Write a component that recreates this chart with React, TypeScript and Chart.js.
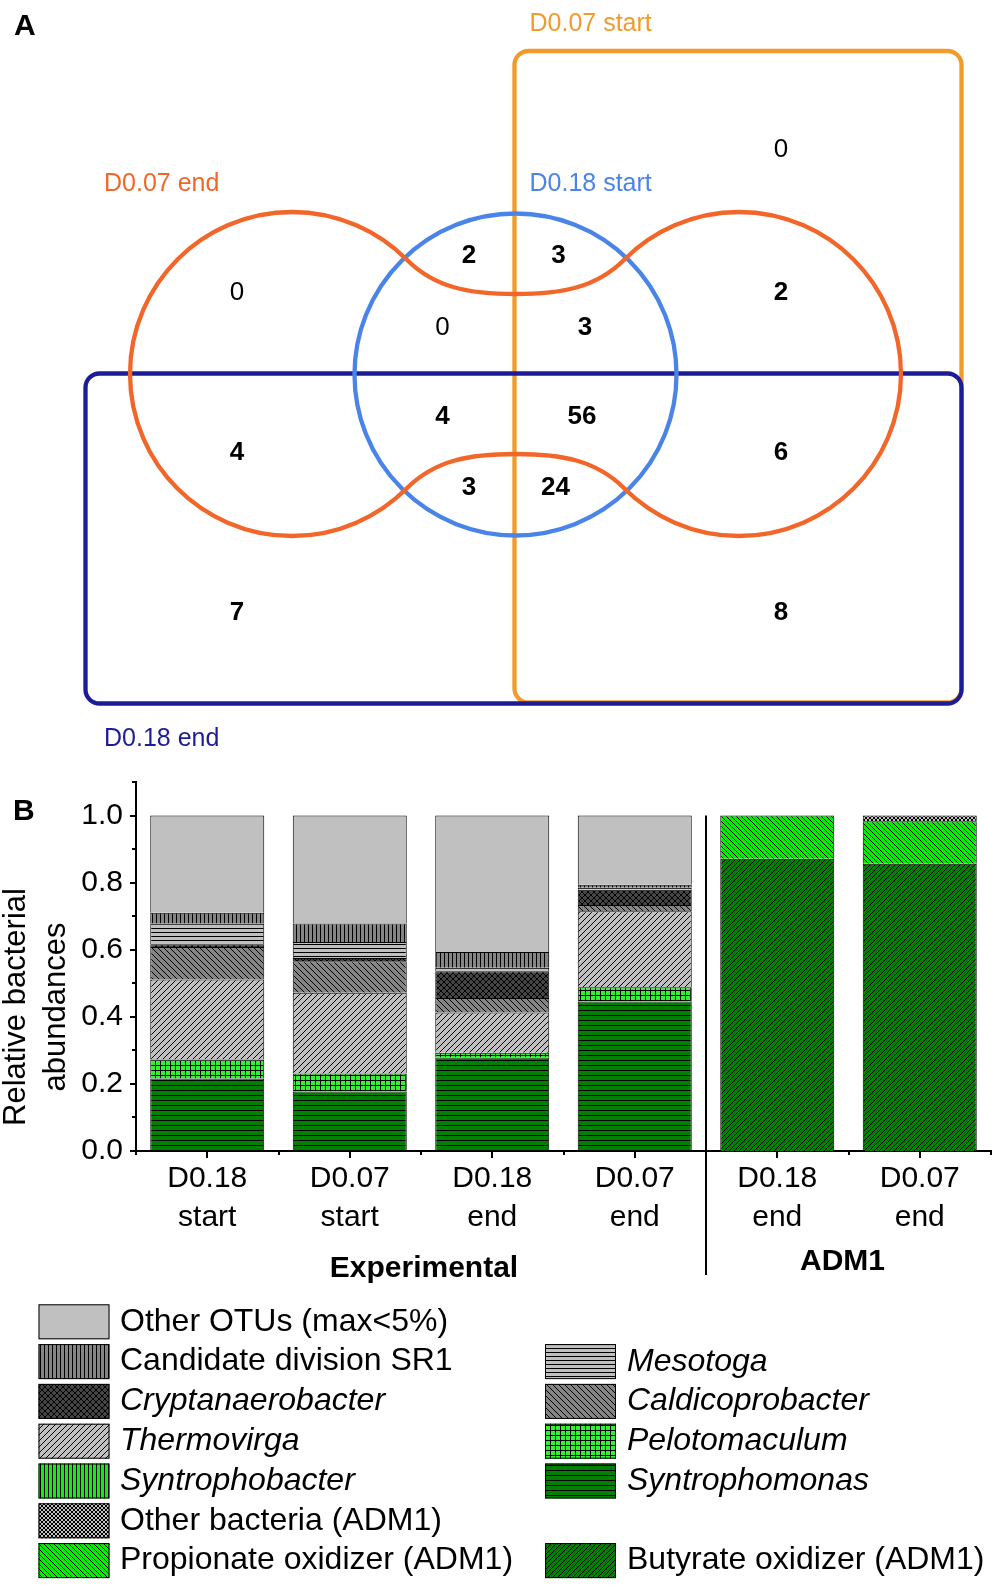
import React, { useEffect, useRef } from 'react';
import { Chart, registerables } from 'chart.js';

Chart.register(...registerables);

const FONT = '"Liberation Sans", Arial, Helvetica, sans-serif';

// ---------------- Panel A: Venn diagram data ----------------
const VENN_SETS = ['D0.07 start', 'D0.07 end', 'D0.18 start', 'D0.18 end'];
const VENN_COUNTS = [0, 0, 2, 3, 0, 3, 2, 4, 4, 56, 6, 3, 24, 7, 8];

// ---------------- Panel B: stacked bars data ----------------
const SAMPLES = [
  ['D0.18', 'start'],
  ['D0.07', 'start'],
  ['D0.18', 'end'],
  ['D0.07', 'end'],
  ['D0.18', 'end'],
  ['D0.07', 'end'],
];
const GROUPS = ['Experimental', 'ADM1'];
const GROUP_FIRST = [0, 4];
const GROUP_LAST = [3, 5];

const SYNTROPHOMONAS = [0.216, 0.177, 0.279, 0.446, 0, 0];
const PELOTOMACULUM = [0.057, 0.054, 0.014, 0.042, 0, 0];
const SYNTROPHOBACTER = [0, 0, 0, 0, 0, 0];
const THERMOVIRGA = [0.238, 0.241, 0.12, 0.227, 0, 0];
const CALDICOPROBACTER = [0.097, 0.094, 0.043, 0.018, 0, 0];
const CRYPTANAEROBACTER = [0.008, 0.009, 0.08, 0.046, 0, 0];
const MESOTOGA = [0.062, 0.048, 0.01, 0.006, 0, 0];
const SR1 = [0.032, 0.055, 0.047, 0.009, 0, 0];
const OTHER_OTUS = [0.29, 0.322, 0.407, 0.206, 0, 0];
const BUTYRATE_ADM1 = [0, 0, 0, 0, 0.871, 0.856];
const PROPIONATE_ADM1 = [0, 0, 0, 0, 0.129, 0.127];
const OTHER_ADM1 = [0, 0, 0, 0, 0, 0.017];

const Y_TICKS_MAJOR = [0, 0.2, 0.4, 0.6, 0.8, 1.0];

// ---------------- Layout & styles ----------------
const W = 1004;
const A_H = 760;
const B_H = 835;

const VENN_COLORS = ['#F09B2C', '#F2662A', '#4A84E8', '#1C1C98'];
const VENN_LABEL_X = [529.5, 104, 529.5, 104];
const VENN_LABEL_Y = [24.5, 184.5, 184.5, 739.5];
const VENN_COUNT_X = [237, 781, 469, 558.5, 442.5, 585, 781, 237, 442.5, 582, 781, 469, 555.4, 237, 781];
const VENN_COUNT_Y = [293, 149.5, 256, 256, 327.5, 327.5, 293, 452.7, 417, 417, 452.7, 488, 488, 613, 613];
const VENN_RECTS = [
  { set: 0, x0: 514.5, y0: 51, x1: 961.5, y1: 702.5 },
  { set: 3, x0: 85.5, y0: 373.5, x1: 961.5, y1: 703.5 },
];
const VENN_CORNER = 14;
const VENN_CIRCLE = { set: 2, cx: 515.5, cy: 374.5, r: 161 };
const VENN_LOBES = { set: 1, cxL: 292, cxR: 739, cy: 374, r: 162, neck: 80 };

type Taxon = {
  label: string;
  italic: boolean;
  values: number[];
  bg: string;
  kind: string;
  period: number;
  thick: number;
  col: number;
  row: number;
};

const TAXA: Taxon[] = [
  { label: 'Syntrophomonas', italic: true, values: SYNTROPHOMONAS, bg: '#008000', kind: 'h', period: 5, thick: 1, col: 1, row: 4 },
  { label: 'Pelotomaculum', italic: true, values: PELOTOMACULUM, bg: '#33F033', kind: 'grid', period: 5, thick: 1, col: 1, row: 3 },
  { label: 'Syntrophobacter', italic: true, values: SYNTROPHOBACTER, bg: '#10EE10', kind: 'v', period: 4, thick: 1, col: 0, row: 4 },
  { label: 'Thermovirga', italic: true, values: THERMOVIRGA, bg: '#C0C0C0', kind: 'fwd', period: 6, thick: 1, col: 0, row: 3 },
  { label: 'Caldicoprobacter', italic: true, values: CALDICOPROBACTER, bg: '#858585', kind: 'back', period: 6, thick: 1, col: 1, row: 2 },
  { label: 'Cryptanaerobacter', italic: true, values: CRYPTANAEROBACTER, bg: '#454545', kind: 'cross', period: 6, thick: 1, col: 0, row: 2 },
  { label: 'Mesotoga', italic: true, values: MESOTOGA, bg: '#C0C0C0', kind: 'h', period: 4, thick: 1, col: 1, row: 1 },
  { label: 'Candidate division SR1', italic: false, values: SR1, bg: '#858585', kind: 'v', period: 4, thick: 1, col: 0, row: 1 },
  { label: 'Other OTUs (max<5%)', italic: false, values: OTHER_OTUS, bg: '#C0C0C0', kind: 'solid', period: 4, thick: 1, col: 0, row: 0 },
  { label: 'Butyrate oxidizer (ADM1)', italic: false, values: BUTYRATE_ADM1, bg: '#008000', kind: 'fwd', period: 5, thick: 1, col: 1, row: 6 },
  { label: 'Propionate oxidizer (ADM1)', italic: false, values: PROPIONATE_ADM1, bg: '#00F000', kind: 'back', period: 5, thick: 1, col: 0, row: 6 },
  { label: 'Other bacteria (ADM1)', italic: false, values: OTHER_ADM1, bg: '#C0C0C0', kind: 'cross', period: 4, thick: 1, col: 0, row: 5 },
];

function makePattern(t: Taxon): CanvasPattern | string {
  if (t.kind === 'solid') return t.bg;
  const s = t.period;
  const c = document.createElement('canvas');
  c.width = s;
  c.height = s;
  const g = c.getContext('2d')!;
  g.fillStyle = t.bg;
  g.fillRect(0, 0, s, s);
  g.fillStyle = '#000';
  for (let i = 0; i < s; i++) {
    for (let k = 0; k < t.thick; k++) {
      if (t.kind === 'h' || t.kind === 'grid') g.fillRect(i, k, 1, 1);
      if (t.kind === 'v' || t.kind === 'grid') g.fillRect(k, i, 1, 1);
      if (t.kind === 'fwd' || t.kind === 'cross') g.fillRect((i + k) % s, s - 1 - i, 1, 1);
      if (t.kind === 'back' || t.kind === 'cross') g.fillRect((i + k) % s, i, 1, 1);
    }
  }
  return g.createPattern(c, 'repeat')!;
}

const vennPlugin = {
  id: 'vennShapes',
  beforeDatasetsDraw(chart: any) {
    const ctx: CanvasRenderingContext2D = chart.ctx;
    const xs = chart.scales.x;
    const ys = chart.scales.y;
    const px = (v: number) => xs.getPixelForValue(v);
    const py = (v: number) => ys.getPixelForValue(v);
    const len = (v: number) => xs.getPixelForValue(v) - xs.getPixelForValue(0);
    ctx.save();
    ctx.lineWidth = 4.3;
    ctx.lineJoin = 'round';
    for (const r of VENN_RECTS) {
      ctx.strokeStyle = VENN_COLORS[r.set];
      ctx.beginPath();
      const x0 = px(r.x0), y0 = py(r.y0);
      (ctx as any).roundRect(x0, y0, px(r.x1) - x0, py(r.y1) - y0, len(VENN_CORNER));
      ctx.stroke();
    }
    // circle
    ctx.strokeStyle = VENN_COLORS[VENN_CIRCLE.set];
    ctx.beginPath();
    ctx.arc(px(VENN_CIRCLE.cx), py(VENN_CIRCLE.cy), len(VENN_CIRCLE.r), 0, Math.PI * 2);
    ctx.stroke();
    // lobes
    const Lx = px(VENN_LOBES.cxL), Rx = px(VENN_LOBES.cxR), cy = py(VENN_LOBES.cy);
    const r = len(VENN_LOBES.r);
    const a = Math.PI / 4;
    const c = Math.cos(a) * r, s = Math.sin(a) * r;
    const mx = (Lx + Rx) / 2;
    const neck = len(VENN_LOBES.neck);
    const k = 0.25 * r * 0.7071, m = 0.28 * r;
    ctx.strokeStyle = VENN_COLORS[VENN_LOBES.set];
    ctx.beginPath();
    ctx.arc(Lx, cy, r, -a, a, true);
    const bx0 = Lx + c, by0 = cy + s, byP = cy + neck;
    ctx.bezierCurveTo(bx0 + k, by0 - k, mx - m, byP, mx, byP);
    ctx.bezierCurveTo(mx + m, byP, Rx - c - k, by0 - k, Rx - c, by0);
    ctx.arc(Rx, cy, r, Math.PI - a, Math.PI + a, true);
    const ty0 = cy - s, tyP = cy - neck;
    ctx.bezierCurveTo(Rx - c - k, ty0 + k, mx + m, tyP, mx, tyP);
    ctx.bezierCurveTo(mx - m, tyP, bx0 + k, ty0 + k, bx0, ty0);
    ctx.closePath();
    ctx.stroke();
    ctx.restore();
  },
  afterDatasetsDraw(chart: any) {
    const ctx: CanvasRenderingContext2D = chart.ctx;
    const xs = chart.scales.x;
    const ys = chart.scales.y;
    const meta = chart.getDatasetMeta(0);
    ctx.save();
    ctx.textAlign = 'center';
    ctx.textBaseline = 'middle';
    ctx.fillStyle = '#000';
    VENN_COUNTS.forEach((v, i) => {
      const el = meta.data[i];
      ctx.font = `${v === 0 ? '' : 'bold '}26px ${FONT}`;
      ctx.fillText(String(v), el.x, el.y);
    });
    ctx.textAlign = 'left';
    ctx.font = `25px ${FONT}`;
    VENN_SETS.forEach((name, i) => {
      ctx.fillStyle = VENN_COLORS[i];
      ctx.fillText(name, xs.getPixelForValue(VENN_LABEL_X[i]), ys.getPixelForValue(VENN_LABEL_Y[i]));
    });
    ctx.fillStyle = '#000';
    ctx.font = `bold 30px ${FONT}`;
    ctx.textBaseline = 'alphabetic';
    ctx.fillText('A', 14, 35);
    ctx.restore();
  },
};

const LEG_X = [38.5, 545];
const LEG_TEXT_X = [120, 627];
const LEG_TOP = 544.3;
const LEG_PITCH = 39.8;
const LEG_W = 71;
const LEG_H = 35;

const makeBarPlugin = (patterns: (CanvasPattern | string)[]) => ({
  id: 'panelB',
  afterDraw(chart: any) {
    const ctx: CanvasRenderingContext2D = chart.ctx;
    const xs = chart.scales.x;
    const ys = chart.scales.y;
    const ca = chart.chartArea;
    ctx.save();
    ctx.strokeStyle = '#000';
    ctx.lineWidth = 2;
    const line = (x0: number, y0: number, x1: number, y1: number) => {
      ctx.beginPath();
      ctx.moveTo(x0, y0);
      ctx.lineTo(x1, y1);
      ctx.stroke();
    };
    // y ticks (major + minor)
    for (let i = 0; i <= 11; i++) {
      const yy = Math.round(ys.getPixelForValue(i / 10));
      line(ca.left - (i % 2 === 0 ? 6 : 4), yy, ca.left, yy);
    }
    // x ticks
    for (let i = 0; i < SAMPLES.length; i++) {
      const xx = Math.round(xs.getPixelForValue(i));
      line(xx, ca.bottom, xx, ca.bottom + 7);
    }
    for (let i = 0; i <= SAMPLES.length; i++) {
      const xx = Math.round(xs.getPixelForValue(i - 0.5));
      line(xx, ca.bottom, xx, ca.bottom + 4);
    }
    // divider between groups
    const dx = Math.round(xs.getPixelForValue(GROUP_LAST[0] + 0.5));
    line(dx, ys.getPixelForValue(1.0), dx, ca.bottom + 124);

    ctx.fillStyle = '#000';
    ctx.textAlign = 'center';
    ctx.textBaseline = 'middle';
    ctx.font = `bold 30px ${FONT}`;
    const gy = [ca.bottom + 117.5, ca.bottom + 110.5];
    const gdx = [3, -6];
    GROUPS.forEach((g, i) => {
      const cx = (xs.getPixelForValue(GROUP_FIRST[i]) + xs.getPixelForValue(GROUP_LAST[i])) / 2;
      ctx.fillText(g, cx + gdx[i], gy[i]);
    });

    // y axis title
    ctx.font = `31px ${FONT}`;
    ctx.textBaseline = 'alphabetic';
    const tcy = 247;
    const titles: [string, number][] = [['Relative bacterial', 25], ['abundances', 65]];
    titles.forEach(([t, bx]) => {
      ctx.save();
      ctx.translate(bx, tcy);
      ctx.rotate(-Math.PI / 2);
      ctx.fillText(t, 0, 0);
      ctx.restore();
    });

    // panel letter
    ctx.textAlign = 'left';
    ctx.font = `bold 30px ${FONT}`;
    ctx.fillText('B', 13, 60);

    // legend
    const order = [8, 7, 5, 3, 2, 11, 10, 6, 4, 1, 0, 9];
    ctx.textBaseline = 'middle';
    order.forEach((ti) => {
      const t = TAXA[ti];
      const x = LEG_X[t.col];
      const y = LEG_TOP + t.row * LEG_PITCH;
      ctx.fillStyle = patterns[ti] as any;
      ctx.fillRect(x, y, LEG_W, LEG_H);
      ctx.lineWidth = 1;
      ctx.strokeStyle = '#000';
      ctx.strokeRect(x + 0.5, y + 0.5, LEG_W - 1, LEG_H - 1);
      ctx.fillStyle = '#000';
      ctx.font = `${t.italic ? 'italic ' : ''}32px ${FONT}`;
      ctx.fillText(t.label, LEG_TEXT_X[t.col], y + LEG_H / 2);
    });
    ctx.restore();
  },
});

export default function App() {
  const aRef = useRef<HTMLCanvasElement>(null);
  const bRef = useRef<HTMLCanvasElement>(null);

  useEffect(() => {
    Chart.defaults.font.family = FONT;
    const venn = new Chart(aRef.current!, {
      type: 'scatter',
      data: {
        datasets: [
          {
            data: VENN_COUNT_X.map((x, i) => ({ x, y: VENN_COUNT_Y[i] })),
            pointRadius: 0,
            pointHoverRadius: 0,
          },
        ],
      },
      options: {
        animation: false,
        responsive: false,
        devicePixelRatio: 1,
        events: [],
        layout: { padding: 0 },
        plugins: { legend: { display: false }, tooltip: { enabled: false } },
        scales: {
          x: { type: 'linear', min: 0, max: W, display: false },
          y: { type: 'linear', min: 0, max: A_H, reverse: true, display: false },
        },
      },
      plugins: [vennPlugin],
    } as any);

    const patterns = TAXA.map(makePattern);
    const bars = new Chart(bRef.current!, {
      type: 'bar',
      data: {
        labels: SAMPLES,
        datasets: TAXA.map((t, i) => ({
          label: t.label,
          data: t.values,
          backgroundColor: patterns[i],
          borderColor: '#000',
          borderWidth: 1,
          barPercentage: 0.8,
          categoryPercentage: 1.0,
        })),
      },
      options: {
        animation: false,
        responsive: false,
        devicePixelRatio: 1,
        events: [],
        layout: { padding: { top: 22, right: 13, bottom: B_H - 391 - 80, left: 0 } },
        plugins: { legend: { display: false }, tooltip: { enabled: false } },
        scales: {
          x: {
            stacked: true,
            offset: true,
            grid: { display: false, drawTicks: false },
            border: { display: true, color: '#000', width: 2 },
            ticks: {
              color: '#000',
              font: { family: FONT, size: 30, lineHeight: 1.31 },
              padding: 8,
              maxRotation: 0,
              minRotation: 0,
              autoSkip: false,
            },
            afterFit: (s: any) => {
              s.height = 80;
              s.paddingLeft = 0;
              s.paddingRight = 0;
              s.paddingTop = 0;
              s.paddingBottom = 0;
            },
          },
          y: {
            stacked: true,
            min: 0,
            max: 1.1,
            grid: { display: false, drawTicks: false },
            border: { display: true, color: '#000', width: 2 },
            afterBuildTicks: (s: any) => {
              s.ticks = Y_TICKS_MAJOR.map((v) => ({ value: v }));
            },
            ticks: {
              color: '#000',
              font: { family: FONT, size: 30 },
              padding: 13,
              callback: (v: any) => Number(v).toFixed(1),
            },
            afterFit: (s: any) => {
              s.width = 136;
              s.paddingTop = 0;
              s.paddingBottom = 0;
              s.paddingLeft = 0;
              s.paddingRight = 0;
            },
          },
        },
      },
      plugins: [makeBarPlugin(patterns)],
    } as any);

    return () => {
      venn.destroy();
      bars.destroy();
    };
  }, []);

  return (
    <div style={{ position: 'absolute', left: 0, top: 0, width: W, height: A_H + B_H, background: '#fff' }}>
      <canvas
        ref={aRef}
        width={W}
        height={A_H}
        style={{ position: 'absolute', left: 0, top: 0, width: W, height: A_H }}
      />
      <canvas
        ref={bRef}
        width={W}
        height={B_H}
        style={{ position: 'absolute', left: 0, top: A_H, width: W, height: B_H }}
      />
    </div>
  );
}
